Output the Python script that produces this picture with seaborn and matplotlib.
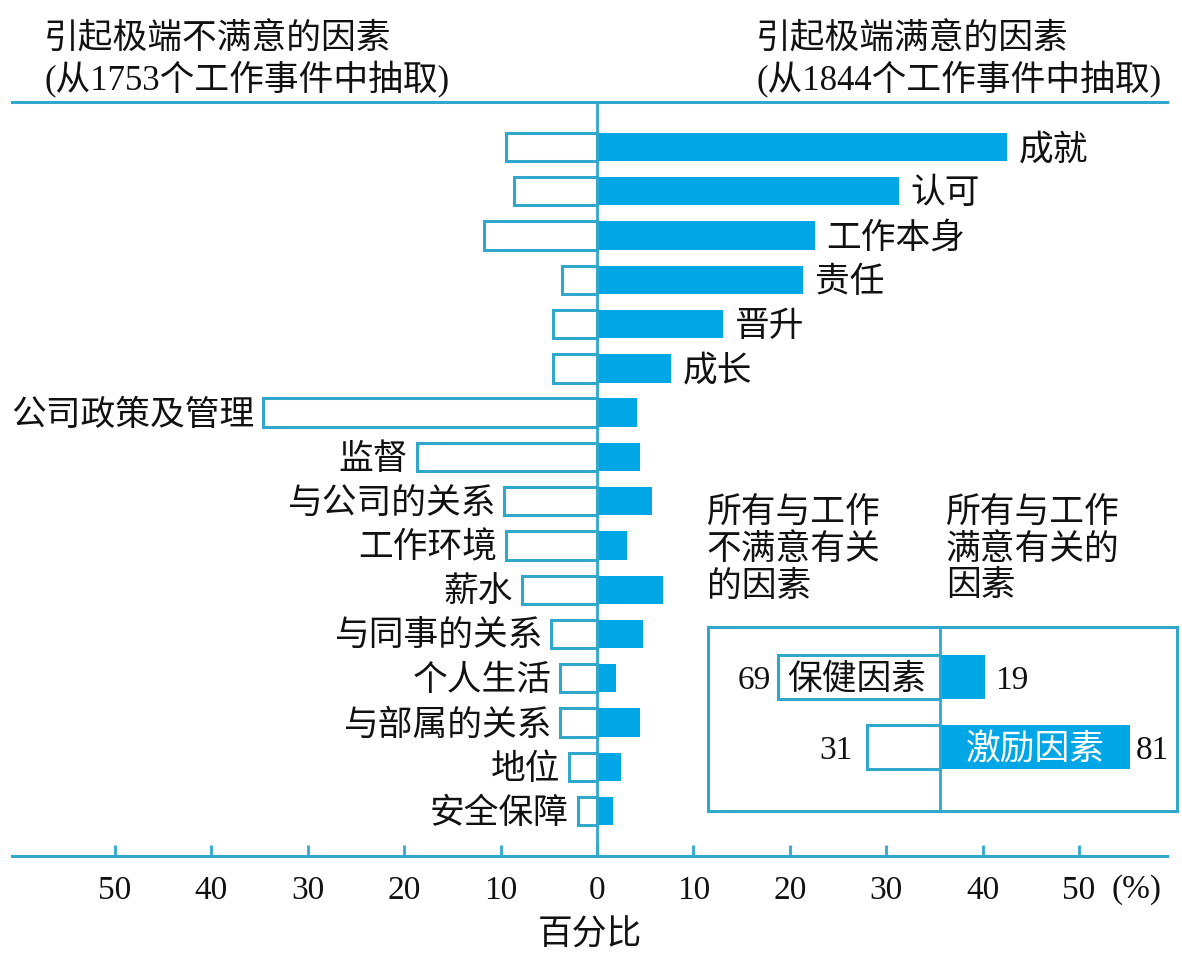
import matplotlib
matplotlib.use('Agg')
import matplotlib.pyplot as plt
import seaborn as sns

# ---------------- data ----------------
factors = ['成就', '认可', '工作本身', '责任', '晋升', '成长',
           '公司政策及管理', '监督', '与公司的关系', '工作环境', '薪水',
           '与同事的关系', '个人生活', '与部属的关系', '地位', '安全保障']
dissatisfaction = [9.4, 8.6, 11.7, 3.6, 4.6, 4.6, 34.6, 18.7, 9.6, 9.4, 7.8,
                   4.8, 3.8, 3.8, 2.9, 2.0]
satisfaction = [42.5, 31.3, 22.6, 21.4, 13.1, 7.7, 4.2, 4.5, 5.7, 3.1, 6.8,
                4.8, 2.0, 4.5, 2.5, 1.7]
n_motivators = 6
tick_values = [-50, -40, -30, -20, -10, 0, 10, 20, 30, 40, 50]
tick_labels = ['50', '40', '30', '20', '10', '0', '10', '20', '30', '40', '50']

summary_groups = ['保健因素', '激励因素']
summary_dis = [69, 31]
summary_sat = [19, 81]

header_left = '引起极端不满意的因素\n(从1753个工作事件中抽取)'
header_right = '引起极端满意的因素\n(从1844个工作事件中抽取)'
note_left = '所有与工作\n不满意有关\n的因素'
note_right = '所有与工作\n满意有关的\n因素'
xlabel = '百分比'
unit = '(%)'

# ---------------- style ----------------
FILL = '#00A6E6'
LINE = '#30A8CB'
TXT = '#111111'
CJK = ['Liberation Serif', 'Noto Sans CJK SC', 'DejaVu Sans']
NUM = ['Liberation Serif', 'DejaVu Serif']
FS = 25
FSN = 24

sns.set_style('white')
plt.rcParams['font.family'] = CJK

W, H = 1182, 954
fig = plt.figure(figsize=(W / 100, H / 100), dpi=100)


def fx(px):
    return px / W


def fy(py):
    return 1 - py / H


# main axes
L, R, T, B = 12, 1167, 103, 857
ax = fig.add_axes([fx(L), fy(B), (R - L) / W, (B - T) / H])

neg = [-v for v in dissatisfaction]
sns.barplot(x=satisfaction, y=factors, orient='h', color=FILL, saturation=1,
            width=0.64, errorbar=None, linewidth=0, ax=ax)
sns.barplot(x=neg, y=factors, orient='h', color=LINE, fill=False,
            width=0.64, errorbar=None, linewidth=2.2, ax=ax)

zero_px = 597
ppu = 9.64
ax.set_xlim((L - zero_px) / ppu, (R - zero_px) / ppu)
step = 44.27
first = 148
ax.set_ylim((B - first) / step, -(first - T) / step)

ax.axvline(0, color=LINE, lw=2)
for s in ['left', 'right']:
    ax.spines[s].set_visible(False)
for s in ['top', 'bottom']:
    ax.spines[s].set_visible(True)
    ax.spines[s].set_color(LINE)
    ax.spines[s].set_linewidth(2.2)

ax.set_yticks([])
ax.set_ylabel('')
ax.set_xticks(tick_values)
ax.set_xticklabels(tick_labels, fontsize=FSN, family=NUM, color=TXT)
ax.tick_params(axis='x', direction='in', length=8, width=2, color=LINE,
               pad=13, bottom=True, top=False)
ax.set_xlabel(xlabel, fontsize=FS, color=TXT, labelpad=10)
ax.text(53.4, -0.023, unit, transform=ax.get_xaxis_transform(), ha='left',
        va='top', fontsize=FSN, family=NUM, color=TXT)

dy = 0.06
for i, name in enumerate(factors):
    if i < n_motivators:
        ax.text(satisfaction[i] + 1.2, i + dy, name, ha='left', va='center',
                fontsize=FS, color=TXT)
    else:
        ax.text(-dissatisfaction[i] - 0.9, i + dy, name, ha='right',
                va='center', fontsize=FS, color=TXT)

# headers
fig.text(fx(44), fy(24), header_left, ha='left', va='top', fontsize=FS,
         color=TXT, linespacing=1.15)
fig.text(fx(756), fy(24), header_right, ha='left', va='top', fontsize=FS,
         color=TXT, linespacing=1.15)

# inset summary
iL, iR, iT, iB = 708, 1177, 628, 812
ax2 = fig.add_axes([fx(iL), fy(iB), (iR - iL) / W, (iB - iT) / H])
sdis = [-v for v in summary_dis]
sns.barplot(x=summary_sat, y=summary_groups, orient='h', color=FILL,
            saturation=1, width=0.64, errorbar=None, linewidth=0, ax=ax2)
sns.barplot(x=sdis, y=summary_groups, orient='h', color=LINE, fill=False,
            width=0.64, errorbar=None, linewidth=2.2, ax=ax2)
c_px = 940
ippu = 2.35
ax2.set_xlim((iL - c_px) / ippu, (iR - c_px) / ippu)
istep = 70
ifirst = 678
ax2.set_ylim((iB - ifirst) / istep, -(ifirst - iT) / istep)
ax2.axvline(0, color=LINE, lw=2)
for s in ax2.spines.values():
    s.set_visible(True)
    s.set_color(LINE)
    s.set_linewidth(2.2)
ax2.set_xticks([])
ax2.set_yticks([])
ax2.set_xlabel('')
ax2.set_ylabel('')

idy = 0.04
# group 0 (hygiene)
ax2.text(-summary_dis[0] - 3, 0 + idy, str(summary_dis[0]), ha='right',
         va='center', fontsize=FSN, family=NUM, color=TXT)
ax2.text(-summary_dis[0] / 2 - 1, 0 + idy, summary_groups[0], ha='center',
         va='center', fontsize=FS, color=TXT)
ax2.text(summary_sat[0] + 4.5, 0 + idy, str(summary_sat[0]), ha='left',
         va='center', fontsize=FSN, family=NUM, color=TXT)
# group 1 (motivators)
ax2.text(-summary_dis[1] - 6, 1 + idy, str(summary_dis[1]), ha='right',
         va='center', fontsize=FSN, family=NUM, color=TXT)
ax2.text(summary_sat[1] / 2, 1 + idy, summary_groups[1], ha='center',
         va='center', fontsize=FS, color='white')
ax2.text(summary_sat[1] + 2.5, 1 + idy, str(summary_sat[1]), ha='left',
         va='center', fontsize=FSN, family=NUM, color=TXT)

fig.text(fx(707), fy(497), note_left, ha='left', va='top', fontsize=FS,
         color=TXT, linespacing=1.15)
fig.text(fx(946), fy(497), note_right, ha='left', va='top', fontsize=FS,
         color=TXT, linespacing=1.15)

fig.savefig('out.png', dpi=100)
